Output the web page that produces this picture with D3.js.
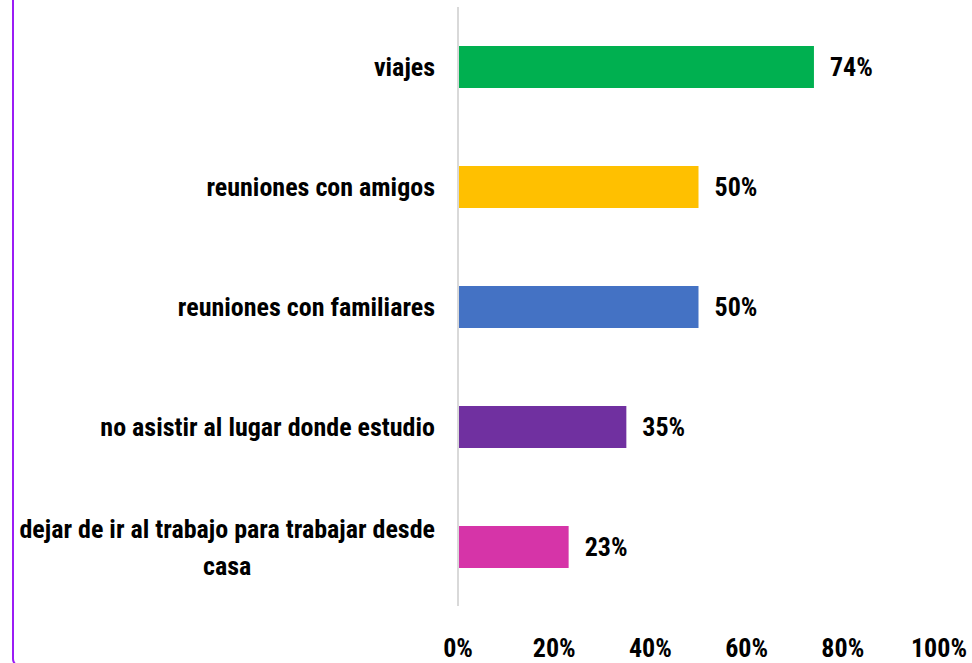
<!DOCTYPE html>
<html>
<head>
  <meta charset="utf-8">
  <script src="https://d3js.org/d3.v7.min.js"></script>
  <style>
    html, body { margin: 0; padding: 0; background: #fff; }
    svg text { font-family: "Liberation Sans Narrow", "Roboto Condensed", "DejaVu Sans Condensed", sans-serif; font-weight: bold; fill: #000; }
  </style>
</head>
<body>
  <div id="chart"></div>
  <script>
    // data
    var categories = [
      "viajes",
      "reuniones con amigos",
      "reuniones con familiares",
      "no asistir al lugar donde estudio",
      "dejar de ir al trabajo para trabajar desde|casa"
    ];
    var values = [0.74, 0.50, 0.50, 0.35, 0.23];
    var barColors = ["#00b050", "#ffc000", "#4472c4", "#7030a0", "#d634a8"];
    var xTicks = [0, 0.2, 0.4, 0.6, 0.8, 1.0];

    var width = 972, height = 663;

    var svg = d3.select("#chart")
      .append("svg")
      .attr("width", width)
      .attr("height", height);

    // purple frame round the chart area (only the left edge shows)
    svg.append("rect")
      .attr("x", 13)
      .attr("y", -30)
      .attr("width", 1000)
      .attr("height", 696)
      .attr("rx", 7)
      .attr("fill", "none")
      .attr("stroke", "#9b1cf5")
      .attr("stroke-width", 2);

    var x = d3.scaleLinear()
      .domain([0, 1])
      .range([458, 939]);

    var y = d3.scaleBand()
      .domain(categories)
      .range([7, 607])
      .paddingInner(0.65)
      .paddingOuter(0.325);

    // vertical axis line
    svg.append("line")
      .attr("x1", x(0))
      .attr("x2", x(0))
      .attr("y1", 7)
      .attr("y2", 606)
      .attr("stroke", "#d9d9d9")
      .attr("stroke-width", 2);

    // bars
    svg.selectAll(".bar")
      .data(values)
      .enter().append("rect")
      .attr("class", "bar")
      .attr("x", x(0) + 1)
      .attr("y", function(d, i) { return y(categories[i]); })
      .attr("width", function(d) { return x(d) - x(0) - 1; })
      .attr("height", y.bandwidth())
      .attr("fill", function(d, i) { return barColors[i]; });

    // value labels
    svg.selectAll(".val")
      .data(values)
      .enter().append("text")
      .attr("class", "val")
      .attr("x", function(d) { return x(d) + 16; })
      .attr("y", function(d, i) { return y(categories[i]) + y.bandwidth() / 2; })
      .attr("dy", "0.35em")
      .style("font-size", "26px")
      .text(function(d) { return Math.round(d * 100) + "%"; });

    // category labels, wrapped ones centred like Excel does
    categories.forEach(function(c, i) {
      var lines = c.split("|");
      var cy = y(c) + y.bandwidth() / 2;
      var t = svg.append("text")
        .style("font-size", "26px")
        .attr("text-anchor", lines.length > 1 ? "middle" : "end");
      var lineH = 37;
      lines.forEach(function(l, j) {
        t.append("tspan")
          .attr("x", 0)
          .attr("y", cy + (j - (lines.length - 1) / 2) * lineH)
          .attr("dy", "0.35em")
          .text(l);
      });
      if (lines.length > 1) {
        var w = t.node().getBBox().width;
        t.attr("transform", "translate(" + (435 - w / 2) + ",0)");
      } else {
        t.attr("transform", "translate(435,0)");
      }
    });

    // x axis tick labels
    svg.selectAll(".tick-label")
      .data(xTicks)
      .enter().append("text")
      .attr("class", "tick-label")
      .attr("x", function(d) { return x(d); })
      .attr("y", 648)
      .attr("dy", "0.35em")
      .attr("text-anchor", "middle")
      .style("font-size", "26px")
      .text(d3.format(".0%"));
  </script>
</body>
</html>
